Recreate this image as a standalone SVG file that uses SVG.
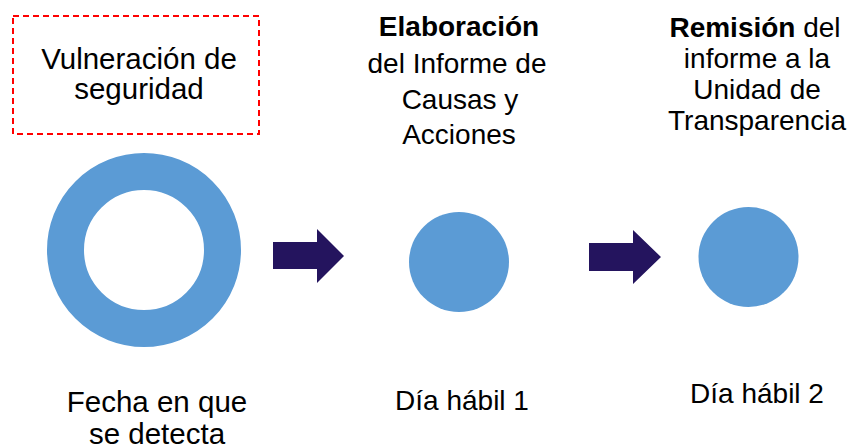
<svg xmlns="http://www.w3.org/2000/svg" width="855" height="448" viewBox="0 0 855 448">
<style>
  text { font-family: "Liberation Sans", Arial, sans-serif; font-size: 28px; fill: #000; text-anchor: middle; }
  .l { font-size: 29.5px; }
  .b { font-weight: bold; }
  .dot { fill: #5B9BD5; }
  .arrow { fill: #24145E; }
</style>
<rect width="855" height="448" fill="#fff"/>
<g id="vulneracion">
  <rect x="13" y="16" width="246" height="118" fill="none" stroke="#FF0000" stroke-width="2" stroke-dasharray="6 4"/>
  <text class="l" x="139" y="69">Vulneración de</text>
  <text class="l" x="139" y="99">seguridad</text>
</g>
<g id="deteccion">
  <circle cx="144" cy="250" r="78.5" fill="none" stroke="#5B9BD5" stroke-width="37"/>
  <text class="l" x="157" y="412">Fecha en que</text>
  <text class="l" x="157" y="444">se detecta</text>
</g>
<g id="elaboracion">
  <circle class="dot" cx="459" cy="262" r="50"/>
  <text class="b" x="459" y="36">Elaboración</text>
  <text x="457" y="73">del Informe de</text>
  <text x="460" y="109">Causas y</text>
  <text x="459" y="144">Acciones</text>
  <text x="462" y="410">Día hábil 1</text>
</g>
<g id="remision">
  <circle class="dot" cx="748.5" cy="257" r="50"/>
  <text x="755" y="37"><tspan class="b">Remisión</tspan> del</text>
  <text x="757" y="68">informe a la</text>
  <text x="757" y="99">Unidad de</text>
  <text x="757" y="130">Transparencia</text>
  <text x="757" y="403">Día hábil 2</text>
</g>
<g id="connectors">
  <polygon class="arrow" points="273,242 317,242 317,229 344,256 317,283 317,269 273,269"/>
  <polygon class="arrow" points="589,243 633,243 633,230 661,257 633,284 633,271 589,271"/>
</g>
</svg>
